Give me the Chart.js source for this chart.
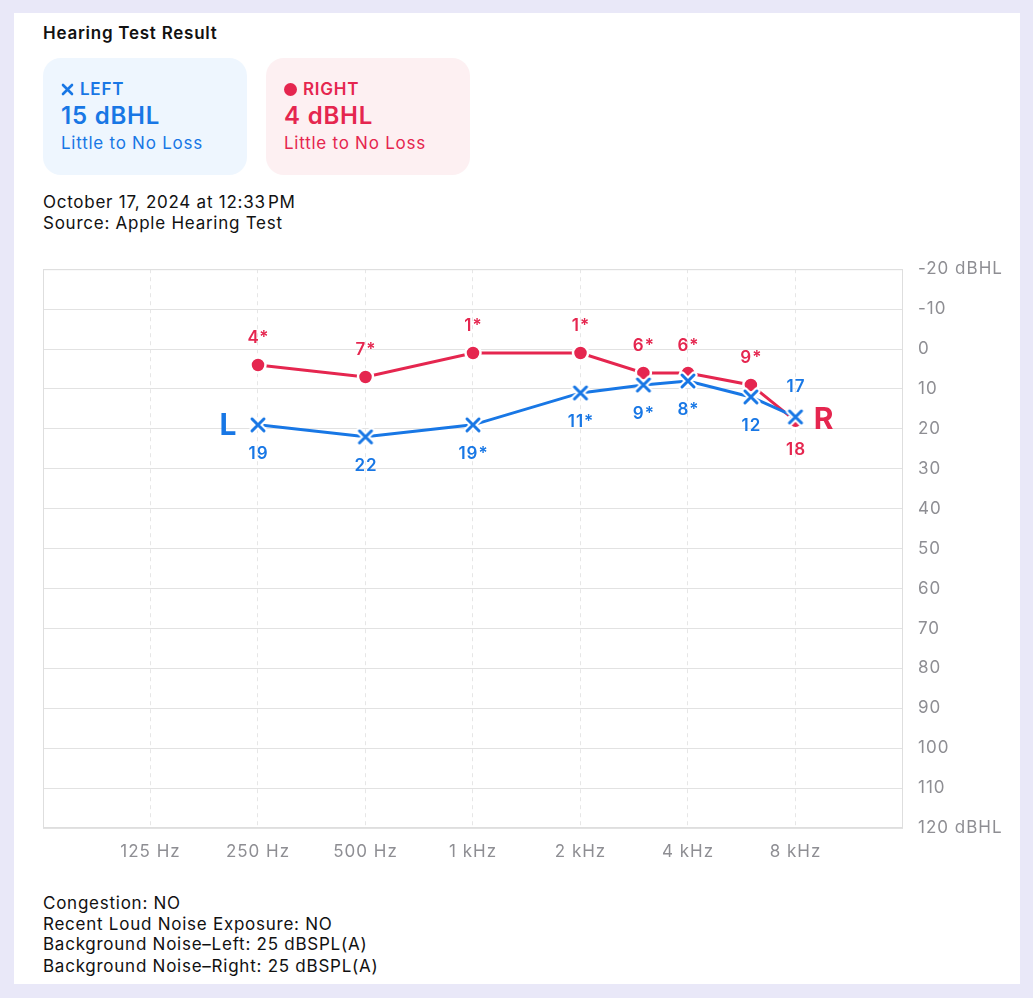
<!DOCTYPE html>
<html>
<head>
<meta charset="utf-8">
<title>Hearing Test Result</title>
<script src="https://cdn.jsdelivr.net/npm/chart.js@4/dist/chart.umd.min.js"></script>
<style>
  body { margin: 0; width: 1033px; height: 998px; position: relative; overflow: hidden;
         background: #e9e8f8; font-family: Inter, "Noto Sans", sans-serif; color: #111; letter-spacing: 0.75px; }
  .card { position: absolute; left: 14px; top: 13px; width: 1006px; height: 971px; background: #fff; }
  .txt { position: absolute; font-size: 17px; line-height: 21px; white-space: nowrap; }
  .title { left: 43px; top: 23px; font-weight: 600; }
  .box { position: absolute; top: 58px; width: 204px; height: 117px; border-radius: 18px; }
  .box div { position: absolute; left: 18px; white-space: nowrap; }
  .box .l1 { top: 21px; font-size: 17px; line-height: 20px; font-weight: 600; }
  .box .l2 { top: 44px; font-size: 24px; line-height: 28px; font-weight: 600; letter-spacing: 0.8px; }
  .box .l3 { top: 75px; font-size: 17px; line-height: 20px; }
  .left { left: 43px; background: #eef6fe; color: #1877e5; }
  .right { left: 266px; background: #fdf0f2; color: #e5264f; }
  .dot { display: inline-block; width: 13px; height: 13px; border-radius: 50%; background: #e5264f; margin-right: 6px; vertical-align: -1px; }
  #wrap { position: absolute; left: 33px; top: 244px; width: 997px; height: 626px; }
</style>
</head>
<body>
<div class="card"></div>
<div class="txt title">Hearing Test Result</div>

<div class="box left">
  <div class="l1"><svg width="13" height="13" viewBox="0 0 13 13" style="margin-right:6px;vertical-align:-1px"><path d="M2 2L11 11M11 2L2 11" stroke="#1877e5" stroke-width="2.6" stroke-linecap="round"/></svg>LEFT</div>
  <div class="l2">15 dBHL</div>
  <div class="l3">Little to No Loss</div>
</div>
<div class="box right">
  <div class="l1"><span class="dot"></span>RIGHT</div>
  <div class="l2">4 dBHL</div>
  <div class="l3">Little to No Loss</div>
</div>

<div class="txt" style="left:43px; top:192px;">October 17, 2024 at 12:33&#8202;PM</div>
<div class="txt" style="left:43px; top:213px;">Source: Apple Hearing Test</div>

<div id="wrap"><canvas id="hearingChart"></canvas></div>

<div class="txt" style="left:43px; top:893px;">Congestion: NO</div>
<div class="txt" style="left:43px; top:914px;">Recent Loud Noise Exposure: NO</div>
<div class="txt" style="left:43px; top:934px;">Background Noise–Left: 25 dBSPL(A)</div>
<div class="txt" style="left:43px; top:956px;">Background Noise–Right: 25 dBSPL(A)</div>

<script>
const frequencies = [250, 500, 1000, 2000, 3000, 4000, 6000, 8000];
const leftEar = [19, 22, 19, 11, 9, 8, 12, 17];
const rightEar = [4, 7, 1, 1, 6, 6, 9, 18];
const leftLabels = ['19', '22', '19*', '11*', '9*', '8*', '12', '17'];
const rightLabels = ['4*', '7*', '1*', '1*', '6*', '6*', '9*', '18'];
const tickFreqs = [125, 250, 500, 1000, 2000, 4000, 8000];
const tickLabels = ['125 Hz', '250 Hz', '500 Hz', '1 kHz', '2 kHz', '4 kHz', '8 kHz'];
const yUnit = 'dBHL';

const BLUE = '#1877e5';
const RED = '#e5264f';
const GREY = '#8e8e93';
const FONT = 'Inter, "Noto Sans", sans-serif';

// cross marker with a white halo
function crossMarker() {
    const c = document.createElement('canvas');
    c.width = 22; c.height = 22;
    const g = c.getContext('2d');
    g.lineCap = 'round';
    const draw = (color, w) => {
        g.strokeStyle = color; g.lineWidth = w;
        g.beginPath();
        g.moveTo(5, 5); g.lineTo(17, 17);
        g.moveTo(17, 5); g.lineTo(5, 17);
        g.stroke();
    };
    draw('#fff', 7);
    draw(BLUE, 3);
    return c;
}

const pairs = (ys) => frequencies.map((f, i) => ({ x: f, y: ys[i] }));

// wider tracking like the original text
const spacingPlugin = {
    id: 'spacing',
    beforeLayout(chart) { chart.ctx.letterSpacing = '1px'; },
    beforeDraw(chart) { chart.ctx.letterSpacing = '1px'; }
};

// frame around the plot
const framePlugin = {
    id: 'frame',
    beforeDatasetsDraw(chart) {
        const a = chart.chartArea;
        const ctx = chart.ctx;
        ctx.save();
        ctx.strokeStyle = '#dedede';
        ctx.lineWidth = 1;
        ctx.strokeRect(a.left + 0.5, a.top + 0.5, a.right - a.left - 1, a.bottom - a.top - 1);
        ctx.restore();
    }
};

// value labels and the L / R ear letters
const labelPlugin = {
    id: 'pointLabels',
    afterDatasetsDraw(chart) {
        const ctx = chart.ctx;
        ctx.save();
        ctx.textAlign = 'center';
        ctx.textBaseline = 'middle';
        chart.data.datasets.forEach((ds, di) => {
            const meta = chart.getDatasetMeta(di);
            const n = meta.data.length;
            ctx.fillStyle = ds.borderColor;
            ctx.letterSpacing = '1px';
            ctx.font = '600 17px ' + FONT;
            meta.data.forEach((pt, i) => {
                const last = i === n - 1;
                let dy = ds.labelAbove ? -27 : 29;
                if (last) dy = ds.labelAbove ? 29 : -30;
                ctx.fillText(ds.valueLabels[i], pt.x + 0.5, pt.y + dy);
            });
            ctx.letterSpacing = '0px';
            ctx.font = 'bold 30px ' + FONT;
            if (ds.ear === 'L') {
                const p = meta.data[0];
                ctx.fillText('L', p.x - 30, p.y + 1);
            } else {
                const p = meta.data[n - 1];
                ctx.fillText('R', p.x + 28, p.y - 1);
            }
        });
        ctx.restore();
    }
};

new Chart(document.getElementById('hearingChart').getContext('2d'), {
    type: 'line',
    data: {
        datasets: [
            {
                label: 'Left',
                ear: 'L',
                data: pairs(leftEar),
                valueLabels: leftLabels,
                labelAbove: false,
                borderColor: BLUE,
                borderWidth: 3,
                pointStyle: crossMarker(),
                order: 0
            },
            {
                label: 'Right',
                ear: 'R',
                data: pairs(rightEar),
                valueLabels: rightLabels,
                labelAbove: true,
                borderColor: RED,
                borderWidth: 3,
                pointStyle: 'circle',
                pointRadius: 7.5,
                pointBackgroundColor: RED,
                pointBorderColor: '#fff',
                pointBorderWidth: 2.5,
                order: 1
            }
        ]
    },
    options: {
        responsive: true,
        maintainAspectRatio: false,
        animation: false,
        events: [],
        layout: { padding: { left: 3, top: 13, right: 0, bottom: 0 } },
        plugins: { legend: { display: false }, tooltip: { enabled: false } },
        scales: {
            x: {
                type: 'logarithmic',
                min: 62.5,
                max: 16000,
                afterBuildTicks: (s) => { s.ticks = tickFreqs.map(v => ({ value: v })); },
                afterFit: (s) => { s.height = 42; },
                ticks: {
                    autoSkip: false,
                    maxRotation: 0,
                    padding: 14,
                    color: GREY,
                    font: { family: FONT, size: 17 },
                    callback: (v) => tickLabels[tickFreqs.indexOf(v)]
                },
                grid: { color: '#e6e6e6', drawTicks: false },
                border: { display: false, dash: [4, 4] }
            },
            y: {
                position: 'right',
                reverse: true,
                min: -20,
                max: 120,
                afterFit: (s) => { s.width = 127; },
                ticks: {
                    stepSize: 10,
                    padding: 15,
                    color: GREY,
                    font: { family: FONT, size: 17 },
                    callback: (v) => (v === -20 || v === 120) ? v + ' ' + yUnit : String(v)
                },
                grid: { color: '#e2e2e2', drawTicks: false },
                border: { display: false }
            }
        }
    },
    plugins: [spacingPlugin, framePlugin, labelPlugin]
});
</script>
</body>
</html>
